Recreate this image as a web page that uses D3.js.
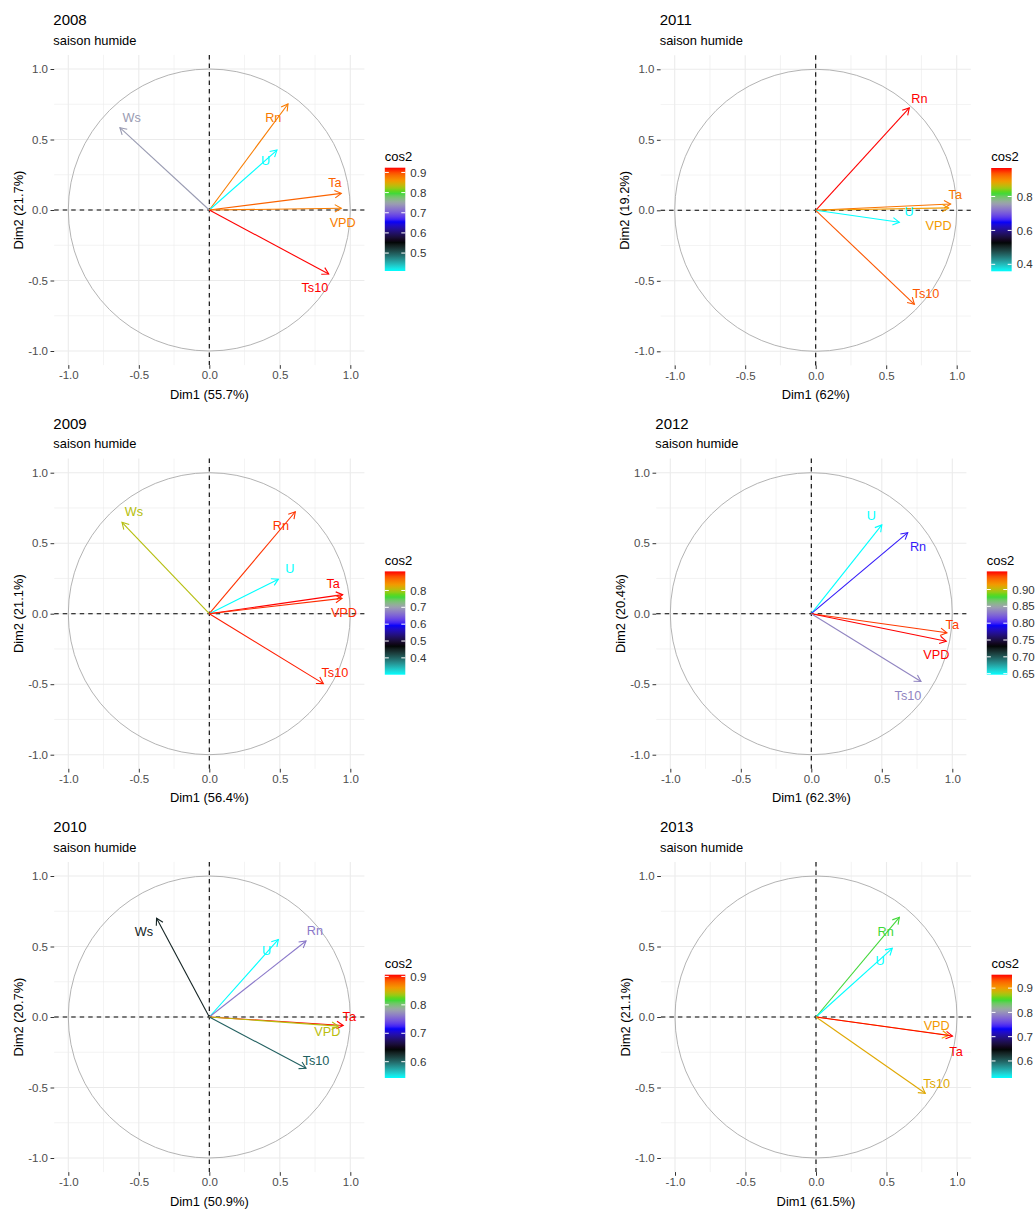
<!DOCTYPE html>
<html><head><meta charset="utf-8">
<script src="https://cdn.jsdelivr.net/npm/d3@7"></script>
<style>
body{margin:0;background:#fff}
svg{display:block;font-family:"Liberation Sans",Arial,sans-serif}
</style>
</head><body>
<svg id="chart" width="1036" height="1209"></svg>
<script>
// Correlation circles of a PCA on wet-season variables, one panel per year.
const years = [2008, 2011, 2009, 2012, 2010, 2013];
const dim1Share = ["55.7%", "62%", "56.4%", "62.3%", "50.9%", "61.5%"];
const dim2Share = ["21.7%", "19.2%", "21.1%", "20.4%", "20.7%", "21.1%"];

// variable coordinates on Dim1 / Dim2
const vars2008 = ["Ws", "Rn", "U", "Ta", "VPD", "Ts10"];
const dim1_2008 = [-0.634, 0.558, 0.48, 0.936, 0.936, 0.847];
const dim2_2008 = [0.584, 0.752, 0.425, 0.118, 0.012, -0.454];

const vars2011 = ["Rn", "Ta", "VPD", "U", "Ts10"];
const dim1_2011 = [0.664, 0.957, 0.943, 0.593, 0.70];
const dim2_2011 = [0.726, 0.045, 0.017, -0.085, -0.667];

const vars2009 = ["Ws", "Rn", "U", "Ta", "VPD", "Ts10"];
const dim1_2009 = [-0.619, 0.61, 0.49, 0.946, 0.941, 0.809];
const dim2_2009 = [0.648, 0.723, 0.245, 0.135, 0.109, -0.496];

const vars2012 = ["U", "Rn", "Ta", "VPD", "Ts10"];
const dim1_2012 = [0.50, 0.684, 0.962, 0.957, 0.778];
const dim2_2012 = [0.63, 0.575, -0.135, -0.195, -0.481];

const vars2010 = ["Ws", "U", "Rn", "Ta", "VPD", "Ts10"];
const dim1_2010 = [-0.374, 0.49, 0.686, 0.95, 0.915, 0.686];
const dim2_2010 = [0.70, 0.55, 0.539, -0.06, -0.065, -0.364];

const vars2013 = ["Rn", "U", "VPD", "Ta", "Ts10"];
const dim1_2013 = [0.591, 0.541, 0.941, 0.968, 0.775];
const dim2_2013 = [0.707, 0.487, -0.13, -0.135, -0.541];

// colour-bar breaks of the cos2 legend
const cos2Ticks2008 = ["0.5", "0.6", "0.7", "0.8", "0.9"];
const cos2Ticks2011 = ["0.4", "0.6", "0.8"];
const cos2Ticks2009 = ["0.4", "0.5", "0.6", "0.7", "0.8"];
const cos2Ticks2012 = ["0.65", "0.70", "0.75", "0.80", "0.85", "0.90"];
const cos2Ticks2010 = ["0.6", "0.7", "0.8", "0.9"];
const cos2Ticks2013 = ["0.6", "0.7", "0.8", "0.9"];

const axisTicks = [-1, -0.5, 0, 0.5, 1];
const gridMinor = [-0.75, -0.25, 0.25, 0.75];

// gradient used for cos2 (positions along the data range)
const paletteStops = [0, 0.28, 0.48, 0.66, 0.76, 0.87, 0.985, 1];
const paletteColors = ["#00ffff", "#000000", "#0000ff", "#9ca4ac", "#22dd22", "#f29c00", "#ff0000", "#ff0000"];

// label placement (text centre, in Dim1/Dim2 units) for each variable
const labelAt = {
  2008: [[-0.551, 0.655], [0.454, 0.657], [0.40, 0.355], [0.891, 0.196], [0.946, -0.09], [0.749, -0.548]],
  2011: [[0.735, 0.792], [0.99, 0.113], [0.872, -0.104], [0.662, -0.01], [0.782, -0.591]],
  2009: [[-0.534, 0.723], [0.508, 0.624], [0.572, 0.322], [0.879, 0.215], [0.955, 0.009], [0.891, -0.416]],
  2012: [[0.425, 0.698], [0.757, 0.474], [1.0, -0.075], [0.887, -0.288], [0.686, -0.58]],
  2010: [[-0.463, 0.605], [0.407, 0.475], [0.749, 0.612], [0.993, 0.002], [0.837, -0.104], [0.757, -0.305]],
  2013: [[0.494, 0.605], [0.454, 0.40], [0.856, -0.057], [0.993, -0.246], [0.856, -0.47]]
};

// panel centres on the page
const panelCentre = {
  2008: [209.3, 210], 2011: [815.7, 210.3],
  2009: [209.3, 613.7], 2012: [811.3, 613.7],
  2010: [209.3, 1017], 2013: [816, 1017]
};

const series = {
  2008: [vars2008, dim1_2008, dim2_2008, cos2Ticks2008],
  2011: [vars2011, dim1_2011, dim2_2011, cos2Ticks2011],
  2009: [vars2009, dim1_2009, dim2_2009, cos2Ticks2009],
  2012: [vars2012, dim1_2012, dim2_2012, cos2Ticks2012],
  2010: [vars2010, dim1_2010, dim2_2010, cos2Ticks2010],
  2013: [vars2013, dim1_2013, dim2_2013, cos2Ticks2013]
};

const svg = d3.select("#chart");
const defs = svg.append("defs");
const half = 155.1; // pixels from centre to panel edge (limits ±1.1)

years.forEach((year, i) => {
  const [cx, cy] = panelCentre[year];
  const [vars, d1, d2, ticks] = series[year];
  const rows = vars.map((v, k) => ({
    name: v, x: d1[k], y: d2[k], cos2: d1[k] * d1[k] + d2[k] * d2[k], lab: labelAt[year][k]
  }));

  const x = d3.scaleLinear().domain([-1.1, 1.1]).range([cx - half, cx + half]);
  const y = d3.scaleLinear().domain([-1.1, 1.1]).range([cy + half, cy - half]);

  const lo = d3.min(rows, d => d.cos2), hi = d3.max(rows, d => d.cos2);
  const color = d3.scaleLinear()
    .domain(paletteStops.map(s => lo + s * (hi - lo)))
    .range(paletteColors)
    .interpolate(d3.interpolateLab);

  const g = svg.append("g");

  // grid
  const grid = g.append("g");
  gridMinor.forEach(v => {
    grid.append("line").attr("x1", x(v)).attr("x2", x(v)).attr("y1", y(1.1)).attr("y2", y(-1.1))
      .attr("stroke", "#ebebeb").attr("stroke-width", 0.6);
    grid.append("line").attr("y1", y(v)).attr("y2", y(v)).attr("x1", x(-1.1)).attr("x2", x(1.1))
      .attr("stroke", "#ebebeb").attr("stroke-width", 0.6);
  });
  axisTicks.forEach(v => {
    grid.append("line").attr("x1", x(v)).attr("x2", x(v)).attr("y1", y(1.1)).attr("y2", y(-1.1))
      .attr("stroke", "#ebebeb").attr("stroke-width", 1.1);
    grid.append("line").attr("y1", y(v)).attr("y2", y(v)).attr("x1", x(-1.1)).attr("x2", x(1.1))
      .attr("stroke", "#ebebeb").attr("stroke-width", 1.1);
  });

  // axes
  const fmt = d => d.toFixed(1);
  const ax = g.append("g").attr("transform", `translate(0,${y(-1.1)})`)
    .call(d3.axisBottom(x).tickValues(axisTicks).tickFormat(fmt).tickSize(3.7).tickPadding(2.5));
  const ay = g.append("g").attr("transform", `translate(${x(-1.1)},0)`)
    .call(d3.axisLeft(y).tickValues(axisTicks).tickFormat(fmt).tickSize(3.7).tickPadding(2.5));
  [ax, ay].forEach(a => {
    a.select(".domain").remove();
    a.selectAll(".tick line").attr("stroke", "#333").attr("stroke-width", 1);
    a.selectAll(".tick text").attr("fill", "#4d4d4d").style("font-size", "11.5px")
      .style("font-family", "'Liberation Sans',Arial,sans-serif");
  });

  // unit circle
  g.append("circle").attr("cx", x(0)).attr("cy", y(0)).attr("r", x(1) - x(0))
    .attr("fill", "none").attr("stroke", "#aaaaaa").attr("stroke-width", 0.9);

  // reference lines
  g.append("line").attr("x1", x(-1.1)).attr("x2", x(1.1)).attr("y1", y(0)).attr("y2", y(0))
    .attr("stroke", "#000").attr("stroke-width", 1.1).attr("stroke-dasharray", "4.5,4");
  g.append("line").attr("x1", x(0)).attr("x2", x(0)).attr("y1", y(1.1)).attr("y2", y(-1.1))
    .attr("stroke", "#000").attr("stroke-width", 1.1).attr("stroke-dasharray", "4.5,4");

  // arrows
  const arrows = g.append("g").selectAll("g").data(rows).join("g");
  arrows.append("line")
    .attr("x1", x(0)).attr("y1", y(0)).attr("x2", d => x(d.x)).attr("y2", d => y(d.y))
    .attr("stroke", d => color(d.cos2)).attr("stroke-width", 1.1);
  arrows.append("path")
    .attr("d", d => {
      const tx = x(d.x), ty = y(d.y);
      const a = Math.atan2(ty - y(0), tx - x(0));
      const L = 7.5, w = Math.PI / 6;
      const p1 = [tx - L * Math.cos(a - w), ty - L * Math.sin(a - w)];
      const p2 = [tx - L * Math.cos(a + w), ty - L * Math.sin(a + w)];
      return `M${p1[0]},${p1[1]}L${tx},${ty}L${p2[0]},${p2[1]}`;
    })
    .attr("fill", "none").attr("stroke", d => color(d.cos2)).attr("stroke-width", 1.1);

  g.append("g").selectAll("text").data(rows).join("text")
    .attr("x", d => x(d.lab[0])).attr("y", d => y(d.lab[1])).attr("dy", "0.36em")
    .attr("text-anchor", "middle").attr("fill", d => color(d.cos2))
    .style("font-size", "12.7px").text(d => d.name);

  // titles
  g.append("text").attr("x", cx - 156).attr("y", cy - 185).attr("fill", "#000")
    .style("font-size", "15px").text(year);
  g.append("text").attr("x", cx - 156).attr("y", cy - 165.3).attr("fill", "#000")
    .style("font-size", "12.9px").text("saison humide");
  g.append("text").attr("x", cx).attr("y", cy + 188.5).attr("text-anchor", "middle").attr("fill", "#000")
    .style("font-size", "12.9px").text(`Dim1 (${dim1Share[i]})`);
  g.append("text").attr("transform", `translate(${cx - 186.5},${cy}) rotate(-90)`)
    .attr("text-anchor", "middle").attr("fill", "#000")
    .style("font-size", "12.9px").text(`Dim2 (${dim2Share[i]})`);

  // colour bar legend
  const bx = cx + 175.5, bw = 20.5, bt = cy - 42.3, bh = 103.3;
  const legendY = d3.scaleLinear().domain([lo, hi]).range([bt + bh, bt]);
  const gid = `grad${year}`;
  const grad = defs.append("linearGradient").attr("id", gid)
    .attr("x1", 0).attr("y1", 1).attr("x2", 0).attr("y2", 0);
  d3.range(0, 1.0001, 1 / 40).forEach(t => {
    grad.append("stop").attr("offset", t).attr("stop-color", color(lo + t * (hi - lo)));
  });
  g.append("text").attr("x", bx).attr("y", cy - 49).attr("fill", "#000")
    .style("font-size", "13px").text("cos2");
  g.append("rect").attr("x", bx).attr("y", bt).attr("width", bw).attr("height", bh)
    .attr("fill", `url(#${gid})`);
  ticks.forEach(t => {
    const ty = legendY(+t);
    g.append("line").attr("x1", bx).attr("x2", bx + 4).attr("y1", ty).attr("y2", ty)
      .attr("stroke", "#fff").attr("stroke-width", 1);
    g.append("line").attr("x1", bx + bw - 4).attr("x2", bx + bw).attr("y1", ty).attr("y2", ty)
      .attr("stroke", "#fff").attr("stroke-width", 1);
    g.append("text").attr("x", bx + bw + 5).attr("y", ty).attr("dy", "0.36em")
      .attr("fill", "#333").style("font-size", "11.5px").text(t);
  });
});
</script>
</body></html>
